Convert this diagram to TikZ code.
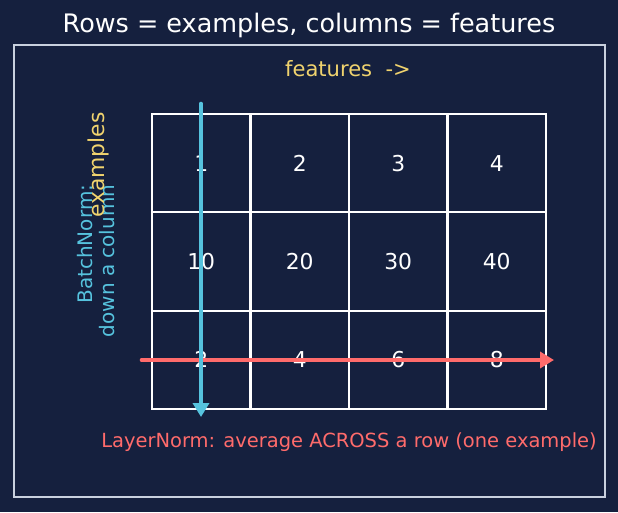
\documentclass[tikz,border=0pt]{standalone}
\usepackage{fontspec}
\setmainfont{DejaVu Sans}
\usetikzlibrary{arrows.meta}
\definecolor{bgnavy}{HTML}{15203E}
\definecolor{framegray}{HTML}{C8D0DE}
\definecolor{bnblue}{HTML}{56C3DE}
\definecolor{lnred}{HTML}{FF6B6B}
\definecolor{axisyellow}{HTML}{F0D36E}
\begin{document}
\begin{tikzpicture}[
      x = 0.75pt, y = -0.75pt,
      cell/.style = {
        draw = white, line width = 1.5pt,
        minimum width = 73.9pt, minimum height = 73.7pt,
        inner sep = 0pt, outer sep = 0pt,
        text = white, font = \fontsize{16.4}{19}\selectfont
      }, flow/.style = {
        line width = 3.5pt, line cap = round,
        -{Triangle[length=10.5pt,width=12pt]}
      }
    ]
      \tikzset{caption/.style={inner sep=0pt,font=\fontsize{14.6}{17}\selectfont}}
      \fill[bgnavy] (0,0) rectangle (618,512);
      \useasboundingbox (0,0) rectangle (618,512);
      \draw[framegray, line width=1.5pt] (14,45) rectangle (605,497);
      \node[inner sep=0pt, text=white, font=\fontsize{19.1}{22}\selectfont] (title) at (309,25)
        {Rows = examples, columns = features};
      \node[caption, text=axisyellow, font=\fontsize{15.8}{18}\selectfont] (features) at (348,69)
        {features\ \ ->};
      % grid of values
      \foreach \r/\vals in {1/{1,2,3,4}, 2/{10,20,30,40}, 3/{2,4,6,8}}
        \foreach \v [count=\c] in \vals
          \node[cell] (c\r\c) at ({152+98.5*(\c-0.5)},{114+98.33*(\r-0.5)}) {\v};
      \node[caption, text=bnblue, rotate=90, align=right,
        font=\fontsize{15}{16.5}\selectfont] (batchnorm) at (96,261)
        {BatchNorm:\\down a column};
      \node[inner sep=0pt, text=axisyellow, rotate=90,
        font=\fontsize{16.4}{19}\selectfont] (examples) at (98,165) {examples};
      \node[caption, text=lnred] (layernorm) at (349,442)
        {LayerNorm: average ACROSS a row (one example)};
      % arrows
      \coordinate (ln start) at (142,360);
      \coordinate (ln end) at (554,360);
      \coordinate (bn start) at (201,104);
      \coordinate (bn end) at (201,417);
      \draw[flow, lnred] (ln start) -- (ln end);
      \draw[flow, bnblue] (bn start) -- (bn end);
    \end{tikzpicture}
\end{document}
